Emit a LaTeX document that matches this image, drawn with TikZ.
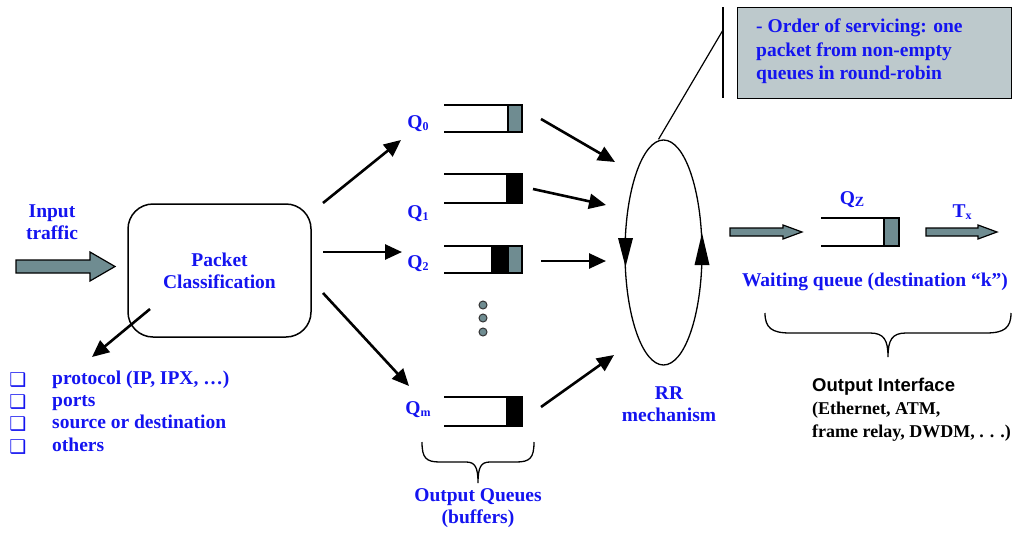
\documentclass[tikz,border=0pt]{standalone}
\usepackage{fontspec}
\setmainfont{Liberation Serif}
\setsansfont{Liberation Sans}
\newfontfamily\dejavu{DejaVu Sans}
\usetikzlibrary{arrows.meta,shapes.geometric}
\definecolor{tblue}{RGB}{20,20,240}
\definecolor{agray}{RGB}{111,140,145}
\definecolor{bgray}{RGB}{189,201,204}
\newcommand{\Qsub}[2]{Q{\fontsize{#2}{#2}\selectfont\raisebox{-2pt}{#1}}}
\begin{document}
\begin{tikzpicture}[x=1pt,y=-1pt,
  bt/.style={font=\fontsize{19.5}{22}\selectfont\bfseries, text=tblue, inner sep=0pt, align=center},
  bk/.style={font=\fontsize{18}{23}\selectfont\bfseries, text=black, inner sep=0pt, align=left},
  arr/.style={line width=2.6pt, -{Triangle[length=17pt,width=15pt]}},
  qline/.style={line width=1.5pt},
  blk/.style={draw, line width=1.5pt, inner sep=0pt, outer sep=0pt},
  fat/.style={draw, fill=agray, line width=1.2pt, line join=miter},
  thin/.style={line width=1.2pt},
  bul/.style={font=\dejavu\bfseries\fontsize{19}{19}\selectfont, text=tblue, inner sep=0pt}
]
\useasboundingbox (0,0) rectangle (1019,533);

% input
\node[bt] (inp) at (52,222) {Input\\traffic};
\draw[fat] (16,260) -- (90,260) -- (90,252) -- (115,266.5) -- (90,281) -- (90,273) -- (16,273) -- cycle;

% classification box
\node[draw, rounded corners=25pt, line width=1.5pt, minimum width=183pt, minimum height=133pt,
      bt] (pc) at (219.5,270.5) {Packet\\Classification};

% list
\coordinate (ls) at (150,309);
\coordinate (le) at (92,357);
\draw[arr] (ls) -- (le);
\foreach \y/\t [count=\i] in {380/{protocol (IP, IPX, \ldots)},402/ports,424/source or destination,447/others}{
  \node[bul] (b\i) at (18,\y) {❑};
  \node[bt, anchor=west, text height=13pt, text depth=4pt] (l\i) at (52,\y) {\t};
}

% arrows to queues
\coordinate (a0s) at (323,203); \coordinate (a0e) at (401,140);
\coordinate (a2s) at (323,252); \coordinate (a2e) at (402,252);
\coordinate (ams) at (323,293); \coordinate (ame) at (409,386);
\draw[arr] (a0s) -- (a0e);
\draw[arr] (a2s) -- (a2e);
\draw[arr] (ams) -- (ame);

% queue labels
\node[bt] (q0) at (418,124) {\Qsub{0}{12}};
\node[bt] (q1) at (418,214) {\Qsub{1}{12}};
\node[bt] (q2) at (418,264) {\Qsub{2}{12}};
\node[bt] (qm) at (418,410) {\Qsub{m}{12}};

% queues
\node[blk, fill=agray, minimum width=14pt, minimum height=27pt] (k0) at (515,118.5) {};
\draw[qline] (444,105) -- (k0.north west);
\draw[qline] (444,132) -- (k0.south west);

\node[blk, fill=black, minimum width=15pt, minimum height=29pt] (k1) at (514.5,188.5) {};
\draw[qline] (444,174) -- (k1.north west);
\draw[qline] (444,203) -- (k1.south west);

\node[blk, fill=black, minimum width=16pt, minimum height=27pt] (k2a) at (500,259.5) {};
\node[blk, fill=agray, minimum width=14pt, minimum height=27pt] (k2b) at (515,259.5) {};
\draw[qline] (444,246) -- (k2a.north west);
\draw[qline] (444,273) -- (k2a.south west);

\node[blk, fill=black, minimum width=15pt, minimum height=29pt] (km) at (514.5,411.5) {};
\draw[qline] (444,397) -- (km.north west);
\draw[qline] (444,426) -- (km.south west);

% dots
\foreach \y [count=\i] in {305,318,332}{
  \node[circle, draw=black!80, fill=agray, line width=1pt, minimum size=8pt, inner sep=0pt] (d\i) at (483,\y) {};
}

% brace under queues
\draw[line width=1.3pt] (422,442) .. controls (422,458) and (426,462) .. (440,462) -- (466,462)
   .. controls (475,462) and (478,467) .. (478,483)
   .. controls (478,467) and (481,462) .. (490,462) -- (516,462)
   .. controls (530,462) and (534,458) .. (534,442);
\node[bt] (oq) at (478,508) {Output Queues\\(buffers)};

% RR ellipse
\node[draw, ellipse, line width=1.3pt, minimum width=77pt, minimum height=225pt, inner sep=0pt] (rr) at (663.5,252.5) {};
\fill (618,238) -- (633,238) -- (625.5,267) -- cycle;
\fill (694.5,265) -- (709.5,265) -- (702,233) -- cycle;
\node[bt] (rrl) at (669,404.5) {RR\\mechanism};

% arrows to RR
\coordinate (r0s) at (541,119); \coordinate (r0e) at (615,162);
\coordinate (r1s) at (533,189); \coordinate (r1e) at (606,205);
\coordinate (r2s) at (541,261); \coordinate (r2e) at (606,261);
\coordinate (rms) at (541,407); \coordinate (rme) at (614,355);
\draw[arr] (r0s) -- (r0e);
\draw[arr] (r1s) -- (r1e);
\draw[arr] (r2s) -- (r2e);
\draw[arr] (rms) -- (rme);

% callout
\node[draw, fill=bgray, line width=1.3pt, minimum width=274pt, minimum height=91pt, anchor=north west, inner sep=0pt] (note) at (737,7) {};
\node[bt, align=left, anchor=west, font=\fontsize{19.5}{23.5}\selectfont\bfseries] (notet) at (756,51.5)
  {- Order of servicing: one\\packet from non-empty\\queues in round-robin};
\coordinate (vt) at (723,7); \coordinate (vb) at (723,98); \coordinate (vm) at (723,30);
\draw[thin] (vt) -- (vb);
\draw[thin] (rr.north) ++(-5,0) coordinate (rtop) -- (vm);

% output side
\draw[fat] (730,228) -- (783,228) -- (783,225) -- (802,232) -- (783,239) -- (783,236) -- (730,236) -- cycle;
\node[blk, fill=agray, minimum width=15pt, minimum height=28pt] (kz) at (891.5,232) {};
\draw[qline] (821,218) -- (kz.north west);
\draw[qline] (821,246) -- (kz.south west);
\node[bt] (qz) at (852,200) {\Qsub{Z}{14}};
\draw[fat] (926,228) -- (978,228) -- (978,225) -- (997,232) -- (978,239) -- (978,236) -- (926,236) -- cycle;
\node[bt] (tx) at (962,212) {T{\fontsize{12}{12}\selectfont\raisebox{-2pt}{x}}};
\node[bt] (wq) at (875,282) {Waiting queue (destination “k”)};

% brace under output
\draw[line width=1.3pt] (765,313) .. controls (765,328) and (772,333) .. (790,333) -- (870,333)
   .. controls (884,333) and (888,340) .. (888,357)
   .. controls (888,340) and (892,333) .. (906,333) -- (986,333)
   .. controls (1004,333) and (1011,328) .. (1011,313);
\node[anchor=west, inner sep=0pt, font=\sffamily\bfseries\fontsize{18.5}{22}\selectfont] (oi) at (812,387) {Output Interface};
\node[bk, anchor=west] (oit) at (812,421.5) {(Ethernet, ATM,\\frame relay, DWDM, . . .)};
\end{tikzpicture}
\end{document}
